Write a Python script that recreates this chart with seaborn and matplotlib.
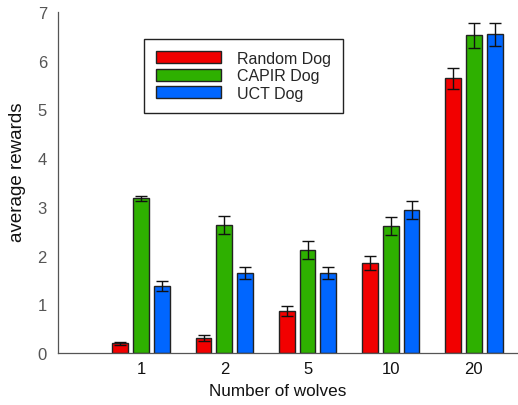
import numpy as np
import pandas as pd
import matplotlib
matplotlib.use("Agg")
import matplotlib.pyplot as plt
import seaborn as sns

# Average rewards per dog strategy for each wolf count
wolves = ["1", "2", "5", "10", "20"]
dogs = ["Random Dog", "CAPIR Dog", "UCT Dog"]
random_dog = [0.20, 0.31, 0.86, 1.85, 5.64]
capir_dog = [3.18, 2.63, 2.11, 2.61, 6.52]
uct_dog = [1.38, 1.64, 1.64, 2.94, 6.54]
random_err = [0.03, 0.06, 0.11, 0.15, 0.22]
capir_err = [0.05, 0.18, 0.19, 0.19, 0.26]
uct_err = [0.10, 0.13, 0.13, 0.18, 0.24]
colors = ["#f20000", "#2eb000", "#0066ff"]

df = pd.DataFrame({
    "wolves": wolves * 3,
    "dog": np.repeat(dogs, len(wolves)),
    "reward": random_dog + capir_dog + uct_dog,
})
errors = [random_err, capir_err, uct_err]

sns.set_style("white")
plt.rcParams["font.family"] = ["Liberation Sans", "DejaVu Sans"]

fig = plt.figure(figsize=(5.18, 4.06), dpi=100)
ax = fig.add_axes([58 / 518, 52 / 406, 460 / 518, 341 / 406])

sns.barplot(data=df, x="wolves", y="reward", hue="dog", order=wolves,
            hue_order=dogs, palette=colors, width=0.75, gap=0.24,
            errorbar=None, edgecolor="#222222", linewidth=1.0,
            saturation=1, ax=ax)

for cont, err in zip(ax.containers, errors):
    xs = [b.get_x() + b.get_width() / 2 for b in cont]
    ys = [b.get_height() for b in cont]
    ax.errorbar(xs, ys, yerr=err, fmt="none", ecolor="#111111",
                elinewidth=1.0, capsize=4.5, capthick=1.0, zorder=5)

ax.set_xlim(-1, 4.53)
ax.set_ylim(0, 7)
ax.set_yticks(range(0, 8))
ax.set_xlabel("Number of wolves", fontsize=12.3, color="#111111", labelpad=5)
ax.set_ylabel("average rewards", fontsize=13.5, color="#111111", labelpad=8)
ax.xaxis.label.set_x(0.478)
ax.yaxis.label.set_y(0.534)
ax.tick_params(axis="y", direction="in", length=4, width=0.8,
               color="#555555", labelsize=12, labelcolor="#555555", pad=8)
ax.tick_params(axis="x", length=0, labelsize=12, labelcolor="#111111", pad=6)

for side in ["top", "right"]:
    ax.spines[side].set_visible(False)
for side in ["left", "bottom"]:
    ax.spines[side].set_color("#555555")
    ax.spines[side].set_linewidth(0.9)

handles, labels = ax.get_legend_handles_labels()
leg = ax.legend(handles, labels, loc="upper left",
                bbox_to_anchor=(0.187, 0.921), fontsize=11.5,
                frameon=True, fancybox=False, edgecolor="#222222",
                framealpha=1, borderpad=0.75, borderaxespad=0,
                handlelength=4.1, handleheight=0.75, handletextpad=0.95,
                labelspacing=0.15)
leg.get_frame().set_linewidth(1.0)

fig.savefig("out.png", dpi=100)
